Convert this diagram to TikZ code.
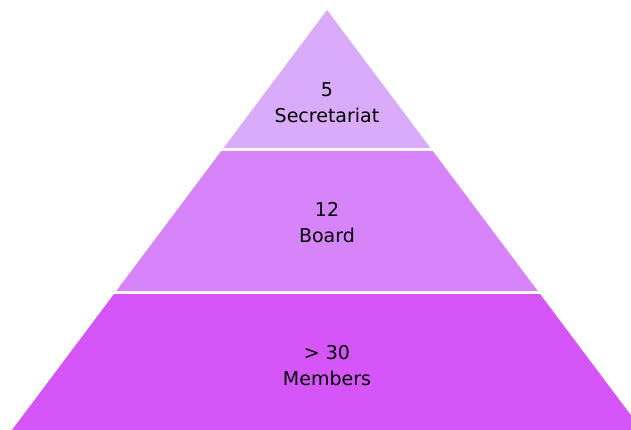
\documentclass[tikz,border=0pt]{standalone}
\usepackage{fontspec}
\setmainfont{DejaVu Sans}

\definecolor{tierTop}{HTML}{D9ABF9}
\definecolor{tierMid}{HTML}{D784FA}
\definecolor{tierLow}{HTML}{D655F9}

\begin{document}
\begin{tikzpicture}[x=1pt, y=-1pt, tiertext/.style={
		% The text:
		align=center, font=\fontsize{19}{26}\selectfont,
		% The colour:
		text=black, inner sep=0pt}]
    \useasboundingbox (0,0) rectangle (631,430);
    \clip (0,0) rectangle (631,430);
    % apex at (327,10), sides run .75 across for every step down
    \foreach \t/\b/\c in {10/148/tierTop,151/291/tierMid,294/430/tierLow}{
      \fill [\c] (327 - .75*\t + 7.5, \t) -- (327 + .75*\t - 7.5, \t)
        -- (327 + .75*\b - 7.5, \b) -- (327 - .75*\b + 7.5, \b) -- cycle;
    }

    \node [tiertext] (secretariat) at (327,103) {5\\Secretariat};
    \node [tiertext] (board) at (327,223) {12\\Board};
    \node [tiertext] (members) at (327,366) {> 30\\Members};

    \end{tikzpicture}
\end{document}
